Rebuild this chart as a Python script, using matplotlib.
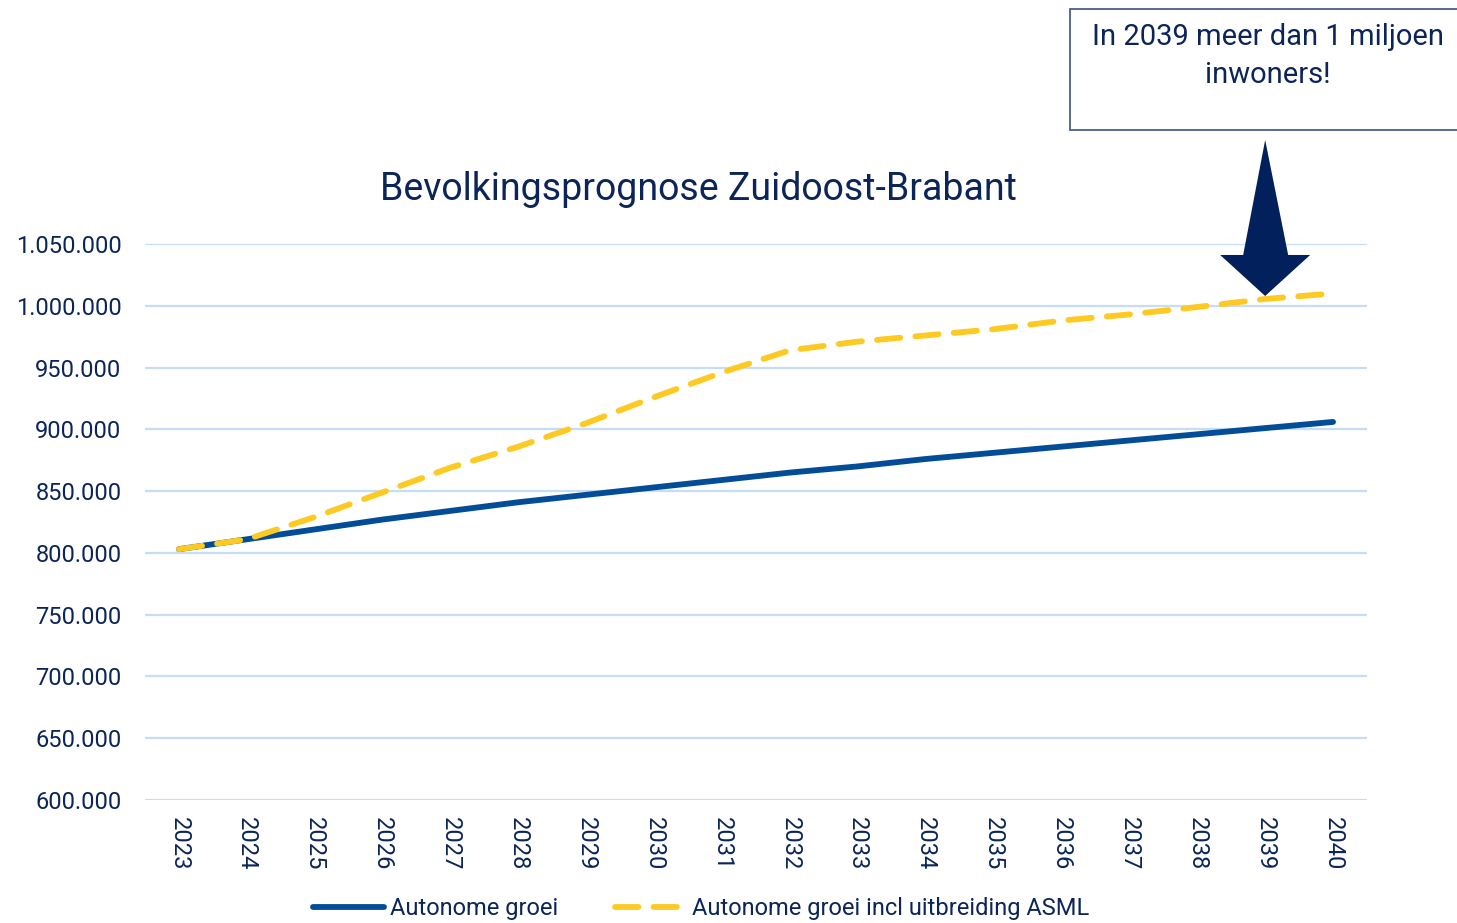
import matplotlib
matplotlib.use("Agg")
import matplotlib.pyplot as plt
from matplotlib import ticker as plticker
from matplotlib.patches import Polygon, Rectangle

plt.rcParams['font.family'] = ['Roboto', 'DejaVu Sans']

years = list(range(2023, 2041))
autonoom = [803000, 811000, 819000, 827000, 834000, 841000, 847000, 853000, 859000,
            865000, 870000, 876000, 881000, 886000, 891000, 896000, 901000, 906000]
incl_asml = [803000, 811000, 829000, 849000, 869000, 886000, 905000, 926000, 946000,
             964000, 971000, 976000, 981000, 988000, 993000, 999000, 1005500, 1010000]
label_autonoom = "Autonome groei"
label_asml = "Autonome groei incl uitbreiding ASML"
title = "Bevolkingsprognose Zuidoost-Brabant"
callout = "In 2039 meer dan 1 miljoen\ninwoners!"
callout_year = 2039

navy = "#0B2559"
blue = "#034C98"
yellow = "#FCCA22"
grid_c = "#C6DDF7"

W, H = 1457, 923
fig = plt.figure(figsize=(W / 100, H / 100), dpi=100)
ax = fig.add_axes([145 / W, 1 - 800 / H, (1367 - 145) / W, (800 - 244) / H])

ax.plot(years, autonoom, color=blue, lw=4.2, solid_capstyle="round", label=label_autonoom)
ax.plot(years, incl_asml, color=yellow, lw=4.2, dashes=(4, 2.6), dash_capstyle="round",
        label=label_asml)

ax.set_xlim(2022.5, 2040.5)
ax.set_ylim(600000, 1050000)
ax.yaxis.set_major_locator(plticker.MultipleLocator(50000))
ax.yaxis.set_major_formatter(plticker.FuncFormatter(lambda v, p: f"{int(v):,}".replace(",", ".")))
ax.set_xticks(years)
ax.set_xticklabels([str(y) for y in years], rotation=-90)
ax.tick_params(axis="both", length=0, labelsize=17, labelcolor=navy)
ax.tick_params(axis="y", pad=17)
ax.tick_params(axis="x", pad=12)
ax.grid(axis="y", color=grid_c, lw=1.6)
ax.set_axisbelow(True)
for s in ax.spines.values():
    s.set_visible(False)

fig.text(698 / W, 1 - 190 / H, title, ha="center", va="center", fontsize=27, color=navy)

leg = fig.legend(loc="center", bbox_to_anchor=(701 / W, 1 - 909 / H), ncol=2, frameon=False,
                 fontsize=17, handlelength=3.0, handletextpad=0.25, columnspacing=2.4,
                 labelcolor=navy)

# callout box (runs off the right edge)
fig.patches.append(Rectangle((1070 / W, 1 - 130 / H), 500 / W, 121 / H, transform=fig.transFigure,
                             facecolor="white", edgecolor="#4B5F86", lw=1.3))
fig.text(1268 / W, 1 - 56 / H, callout, ha="center", va="center", fontsize=21,
         color=navy, linespacing=1.45)

# block arrow pointing at the 2039 value
fig.canvas.draw()
tx, ty = ax.transData.transform((callout_year, incl_asml[years.index(callout_year)]))
ty += 3
arrow = [(tx, ty), (tx - 45, ty + 41), (tx - 22, ty + 41), (tx, ty + 156),
         (tx + 23, ty + 41), (tx + 45, ty + 41)]
fig.patches.append(Polygon([(x / W, y / H) for x, y in arrow], closed=True,
                           transform=fig.transFigure, facecolor="#02205C", edgecolor="none"))

fig.savefig("out.png", dpi=100)
